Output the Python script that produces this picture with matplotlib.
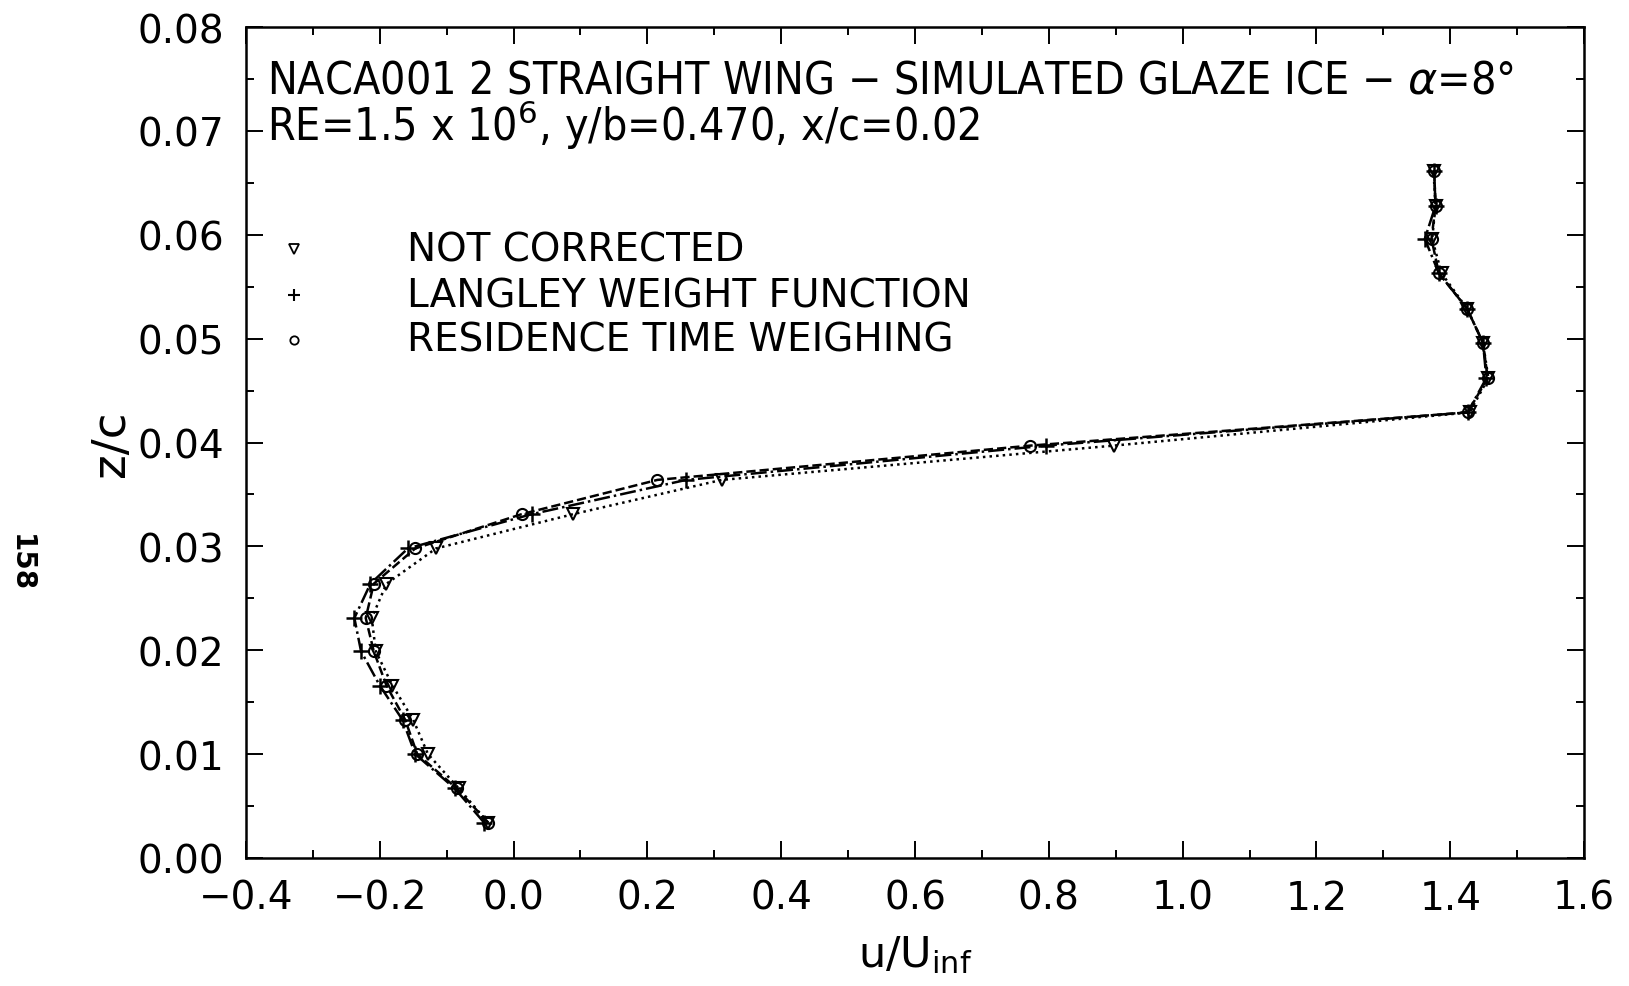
import numpy as np
import matplotlib
matplotlib.use('Agg')
import matplotlib.pyplot as plt
from matplotlib.ticker import MultipleLocator

# z/c stations (same for all three reductions)
z_c = [0.0034, 0.0067, 0.0100, 0.0133, 0.0166, 0.0199, 0.0231, 0.0264, 0.0298, 0.0331,
       0.0364, 0.0397, 0.0429, 0.0462, 0.0496, 0.0529, 0.0563, 0.0596, 0.0628, 0.0661]

# u/U_inf
u_not_corr = [-0.038, -0.082, -0.128, -0.150, -0.181, -0.206, -0.212, -0.190, -0.116, 0.089,
              0.311, 0.897, 1.429, 1.457, 1.449, 1.425, 1.387, 1.373, 1.378, 1.375]
u_langley = [-0.044, -0.088, -0.147, -0.166, -0.200, -0.228, -0.238, -0.214, -0.158, 0.027,
             0.258, 0.796, 1.426, 1.454, 1.449, 1.425, 1.383, 1.362, 1.378, 1.376]
u_residence = [-0.038, -0.085, -0.144, -0.162, -0.190, -0.209, -0.221, -0.209, -0.147, 0.012,
               0.215, 0.772, 1.426, 1.456, 1.449, 1.425, 1.383, 1.372, 1.378, 1.376]

labels = ["NOT CORRECTED", "LANGLEY WEIGHT FUNCTION", "RESIDENCE TIME WEIGHING"]

plt.rcParams['font.family'] = ['DejaVu Sans']
plt.rcParams['mathtext.fontset'] = 'dejavusans'

fig = plt.figure(figsize=(16.29, 9.87), dpi=100)
ax = fig.add_axes([0.151, 0.1297, 0.8214, 0.8419])

ax.plot(u_not_corr, z_c, linestyle=':', color='black', lw=1.8,
        marker='v', ms=9, mfc='none', mec='black', mew=1.5)
ax.plot(u_langley, z_c, linestyle='-.', color='black', lw=1.8,
        marker='+', ms=11, mec='black', mew=1.8)
ax.plot(u_residence, z_c, linestyle='--', color='black', lw=1.8,
        marker='o', ms=8, mfc='none', mec='black', mew=1.5)

ax.set_xlim(-0.4, 1.6)
ax.set_ylim(0.0, 0.08)
ax.xaxis.set_major_locator(MultipleLocator(0.2))
ax.xaxis.set_minor_locator(MultipleLocator(0.1))
ax.yaxis.set_major_locator(MultipleLocator(0.01))
ax.yaxis.set_minor_locator(MultipleLocator(0.005))
ax.set_xticklabels([f"{v:.1f}".replace('-', '\u2212') for v in ax.get_xticks()])
ax.set_yticklabels([f"{v:.2f}" for v in ax.get_yticks()])
ax.tick_params(which='both', direction='in', top=True, right=True, width=1.4, labelsize=28)
ax.tick_params(axis='x', which='major', length=12, pad=15)
ax.tick_params(axis='y', which='major', length=12, pad=16)
ax.tick_params(which='minor', length=6)
for sp in ax.spines.values():
    sp.set_linewidth(1.8)

ax.set_xlabel(r"u/U$_{\mathrm{inf}}$", fontsize=31, labelpad=12)
ax.set_ylabel("z/c", fontsize=34, labelpad=2)

title = ("NACA001 2 STRAIGHT WING \u2212 SIMULATED GLAZE ICE \u2212 $\\alpha$=8\u00b0\n"
         "RE=1.5 x 10$^6$, y/b=0.470, x/c=0.02")
ax.text(0.016, 0.962, title, transform=ax.transAxes, fontsize=32,
        fontstretch='condensed', va='top', ha='left', linespacing=0.9)

# legend drawn as text rows
leg_marks = [dict(marker='v', ms=7, mfc='none', mec='black', mew=1.3),
             dict(marker='+', ms=8, mec='black', mew=1.5),
             dict(marker='o', ms=6, mfc='none', mec='black', mew=1.3)]
leg_y = [0.7325, 0.6775, 0.6238]
for lab, mk, yy in zip(labels, leg_marks, leg_y):
    ax.plot([0.036], [yy], transform=ax.transAxes, linestyle='none', clip_on=False, **mk)
    ax.text(0.12, yy, lab, transform=ax.transAxes, fontsize=28, va='center')

fig.text(0.013, 0.43, "158", rotation=270, fontsize=20, fontweight='bold',
         va='center', ha='center')

fig.savefig("out.png", dpi=100, facecolor='white')
